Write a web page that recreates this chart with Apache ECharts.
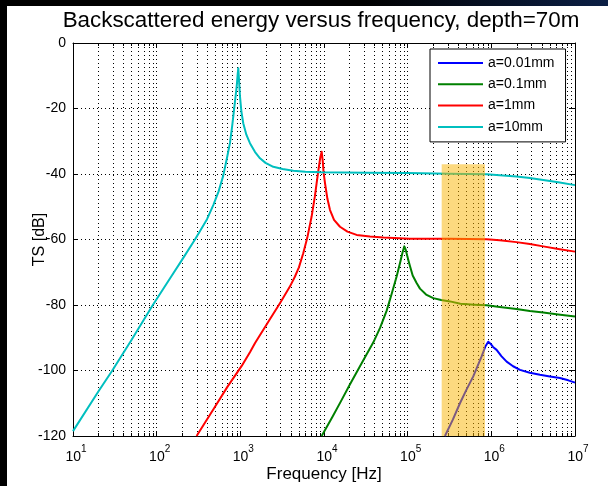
<!DOCTYPE html>
<html>
<head>
<meta charset="utf-8">
<script src="https://cdn.jsdelivr.net/npm/echarts@6/dist/echarts.min.js"></script>
<style>
  html, body { margin: 0; padding: 0; width: 608px; height: 486px; overflow: hidden;
    background: linear-gradient(to right, #000 0%, #000 60%, #0b1f45 100%); }
  #paper { position: absolute; left: 7px; top: 6px; right: 0; bottom: 0; background: #fff; }
  #chart { position: absolute; left: 0; top: 0; width: 608px; height: 486px; }
</style>
</head>
<body>
<div id="paper"></div>
<div id="chart"></div>
<script>
// ---- data ----
const seriesNames = ['a=0.01mm', 'a=0.1mm', 'a=1mm', 'a=10mm'];
const seriesColors = ['#0000ff', '#008000', '#ff0000', '#00bfbf'];

// a=0.01mm
const freqA001 = [279000, 346700, 421700, 501200, 608100, 765600, 851100, 918300, 977200, 1047000, 1156000, 1318000, 1524000, 1820000, 2198000, 2884000, 3811000, 5012000, 6607000, 8318000, 10000000];
const tsA001   = [-120, -115, -110, -106, -101.8, -95.7, -92.6, -91.2, -91.8, -92.8, -93.7, -95.6, -97.3, -98.7, -99.8, -100.7, -101.3, -101.8, -102.3, -103.0, -103.7];

// a=0.1mm
const freqA01 = [9376, 12590, 15850, 20460, 28180, 38900, 46770, 55980, 64570, 73790, 81280, 87100, 91200, 94410, 97720, 102300, 106700, 114800, 127900, 140300, 166000, 202300, 251200, 320600, 426600, 631000, 879000, 1259000, 1995000, 2884000, 4169000, 6310000, 10000000];
const tsA01   = [-120, -114.2, -109.5, -104.2, -97.8, -91.4, -87.0, -81.8, -76.5, -71.3, -67, -63.8, -62.1, -63, -64.5, -66.5, -68.2, -71, -73.3, -75, -76.8, -77.9, -78.5, -78.9, -79.6, -79.9, -80.1, -80.6, -81.2, -81.8, -82.3, -82.9, -83.5];

// a=1mm
const freqA1 = [300, 500, 700, 1038, 1303, 1500, 2265, 3000, 3926, 4500, 5012, 5649, 6310, 7112, 7762, 8166, 8610, 9016, 9376, 9661, 9886, 10280, 10970, 11800, 13180, 15520, 19060, 24550, 35480, 51290, 107200, 316200, 879000, 1259000, 1995000, 2884000, 4169000, 6310000, 10000000];
const tsA1   = [-120, -111, -105, -98.6, -94.4, -91.6, -84.3, -79.3, -74.3, -71.3, -68.5, -64.2, -59.5, -53, -47, -42.8, -38.5, -35, -33.2, -36, -39.5, -42.8, -47.5, -51, -54, -56.1, -57.6, -58.6, -59.1, -59.4, -59.8, -59.8, -59.9, -60.2, -60.8, -61.4, -62.1, -62.9, -63.7];

// a=10mm
const freqA10 = [10, 20, 29.5, 50, 90, 150, 200, 287, 330, 400, 475, 550, 625, 700, 752, 800, 840, 875, 904, 930, 946, 960, 991, 1030, 1084, 1180, 1303, 1500, 1718, 2000, 2477, 3200, 4295, 6000, 8954, 31620, 100000, 316200, 879000, 1259000, 1995000, 2884000, 4169000, 6310000, 10000000];
const tsA10   = [-118.5, -106.5, -100, -90.7, -80, -71.2, -66.3, -60, -57.4, -53.8, -49.5, -45.3, -40.5, -34.5, -30.5, -25.2, -20.5, -16.5, -13.3, -9.5, -7.7, -10.5, -16.4, -21, -24.5, -28, -30.6, -33.3, -35.2, -36.6, -37.8, -38.5, -39.0, -39.3, -39.5, -39.6, -39.7, -39.9, -40.1, -40.4, -40.8, -41.2, -41.8, -42.5, -43.4];

// highlighted band
const bandFreq = [255000, 840000];
const bandTS = [-120, -37];

// axes
const xMin = 10, xMax = 10000000;
const yMin = -120, yMax = 0, yStep = 20;
const minorMultipliers = [2, 3, 4, 5, 6, 7, 8, 9];
const decades = [10, 100, 1000, 10000, 100000, 1000000];

// ---- build ----
function pairs(xs, ys) { return xs.map((x, i) => [x, ys[i]]); }
const minorTicks = [];
decades.forEach(d => minorMultipliers.forEach(m => minorTicks.push([d * m])));

const FONT = '"Liberation Sans", Arial, sans-serif';
const chart = echarts.init(document.getElementById('chart'), null, { renderer: 'canvas' });

const lineSeries = [
  { name: seriesNames[0], data: pairs(freqA001, tsA001) },
  { name: seriesNames[1], data: pairs(freqA01, tsA01) },
  { name: seriesNames[2], data: pairs(freqA1, tsA1) },
  { name: seriesNames[3], data: pairs(freqA10, tsA10) }
].map((s, i) => ({
  type: 'line', name: s.name, data: s.data, xAxisIndex: 0, yAxisIndex: 0,
  symbol: 'none', showSymbol: false, smooth: false, clip: true, z: 3,
  color: seriesColors[i],
  lineStyle: { color: seriesColors[i], width: 2, join: 'round' }
}));

const option = {
  backgroundColor: 'transparent',
  animation: false,
  textStyle: { fontFamily: FONT },
  title: {
    text: 'Backscattered energy versus frequency, depth=70m',
    left: 316, top: 5, textAlign: 'center',
    textStyle: { fontFamily: FONT, fontSize: 22.4, fontWeight: 'normal', color: '#000' }
  },
  legend: {
    orient: 'vertical', left: 430, top: 49,
    data: seriesNames,
    icon: 'path://M0 0 L45 0 L45 2 L0 2 Z',
    backgroundColor: '#fff', borderColor: '#000', borderWidth: 1,
    padding: [7, 11, 8, 8],
    itemWidth: 45, itemHeight: 14, itemGap: 7.3,
    textStyle: { fontFamily: FONT, fontSize: 14, color: '#000' }
  },
  grid: { left: 73, right: 33, top: 43, bottom: 50, containLabel: false, outerBoundsMode: 'none' },
  xAxis: [
    {
      type: 'log', logBase: 10, min: xMin, max: xMax, splitNumber: 6, position: 'bottom',
      name: 'Frequency [Hz]', nameLocation: 'middle', nameGap: 30, nameMoveOverlap: false,
      nameTextStyle: { fontFamily: FONT, fontSize: 17, color: '#000' },
      axisLine: { show: true, onZero: false, lineStyle: { color: '#000', width: 1 } },
      axisTick: { show: true, inside: true, length: 5, lineStyle: { color: '#000' } },
      axisLabel: {
        margin: 8, color: '#000',
        formatter: v => '{p|}{b|10}{s|' + Math.round(Math.log10(v)) + '}',
        rich: {
          p: { width: 6 },
          b: { fontFamily: FONT, fontSize: 14, color: '#000', verticalAlign: 'bottom', lineHeight: 20 },
          s: { fontFamily: FONT, fontSize: 10, color: '#000', verticalAlign: 'top', lineHeight: 20 }
        }
      },
      splitLine: { show: true, lineStyle: { color: '#000', type: [1, 3], width: 1 } },
      minorTick: { show: false }, minorSplitLine: { show: false }
    },
    {
      type: 'log', logBase: 10, min: xMin, max: xMax, splitNumber: 6, position: 'top',
      axisLine: { show: true, onZero: false, lineStyle: { color: '#000', width: 1 } },
      axisTick: { show: true, inside: true, length: 5, lineStyle: { color: '#000' } },
      axisLabel: { show: false }, splitLine: { show: false }
    }
  ],
  yAxis: [
    {
      type: 'value', min: yMin, max: yMax, interval: yStep, position: 'left',
      name: 'TS [dB]', nameLocation: 'middle', nameGap: 25, nameRotate: 90, nameMoveOverlap: false,
      nameTextStyle: { fontFamily: FONT, fontSize: 16, color: '#000' },
      axisLine: { show: true, onZero: false, lineStyle: { color: '#000', width: 1 } },
      axisTick: { show: true, inside: true, length: 5, lineStyle: { color: '#000' } },
      axisLabel: { margin: 7, color: '#000', fontFamily: FONT, fontSize: 14 },
      splitLine: { show: true, lineStyle: { color: '#000', type: [1, 3], width: 1 } }
    },
    {
      type: 'value', min: yMin, max: yMax, interval: yStep, position: 'right',
      axisLine: { show: true, onZero: false, lineStyle: { color: '#000', width: 1 } },
      axisTick: { show: true, inside: true, length: 5, lineStyle: { color: '#000' } },
      axisLabel: { show: false }, splitLine: { show: false }
    }
  ],
  series: [
    {
      type: 'custom', name: 'minorGrid', silent: true, z: 1,
      xAxisIndex: 0, yAxisIndex: 0,
      data: minorTicks,
      renderItem: function (params, api) {
        const v = api.value(0);
        const top = api.coord([v, yMax]);
        const bot = api.coord([v, yMin]);
        const x = Math.round(top[0]) + 0.5;
        return {
          type: 'group',
          children: [
            { type: 'line', shape: { x1: x, y1: top[1], x2: x, y2: bot[1] },
              style: { stroke: '#000', lineWidth: 1, lineDash: [1, 3] } },
            { type: 'line', shape: { x1: x, y1: bot[1], x2: x, y2: bot[1] - 3 },
              style: { stroke: '#000', lineWidth: 1 } },
            { type: 'line', shape: { x1: x, y1: top[1], x2: x, y2: top[1] + 3 },
              style: { stroke: '#000', lineWidth: 1 } }
          ]
        };
      }
    },
    ...lineSeries,
    {
      type: 'custom', name: 'band', silent: true, z: 10,
      xAxisIndex: 0, yAxisIndex: 0,
      data: [[bandFreq[0], bandFreq[1], bandTS[0], bandTS[1]]],
      renderItem: function (params, api) {
        const p0 = api.coord([api.value(0), api.value(3)]);
        const p1 = api.coord([api.value(1), api.value(2)]);
        return {
          type: 'rect',
          shape: { x: p0[0], y: p0[1], width: p1[0] - p0[0], height: p1[1] - p0[1] },
          style: { fill: 'rgba(250,180,0,0.5)' }
        };
      }
    }
  ]
};
chart.setOption(option);
</script>
</body>
</html>
